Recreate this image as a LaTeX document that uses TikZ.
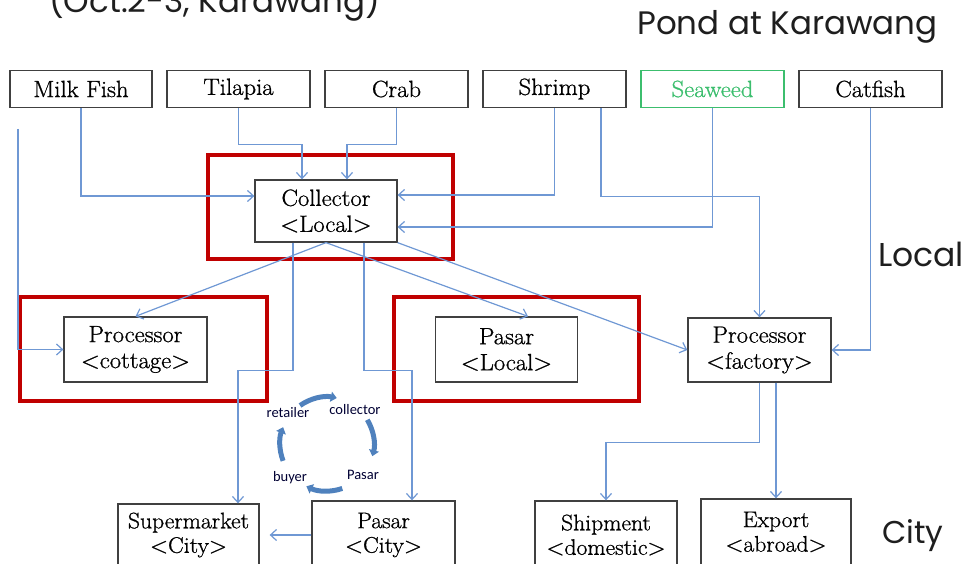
\documentclass[tikz,border=0pt]{standalone}
\usepackage{fontspec}
\newfontfamily\titlefont{Poppins}
\newfontfamily\cyclefont{Carlito}
\newfontfamily\boxfont{Latin Modern Roman}[FakeBold=0.9,FakeStretch=1.05]
\usetikzlibrary{arrows.meta}
\definecolor{connc}{RGB}{111,152,212}
\definecolor{cycblue}{RGB}{79,129,189}
\definecolor{boxgray}{RGB}{64,64,64}
\definecolor{redb}{RGB}{192,0,0}
\definecolor{seagreen}{RGB}{60,190,110}
\definecolor{titlec}{RGB}{30,30,30}
\tikzset{
  box/.style={draw=boxgray, line width=1.3pt, rectangle, inner sep=0pt, align=center,
    font=\boxfont\fontsize{23.5}{26}\selectfont},
  topbox/.style={box, minimum width=143pt, minimum height=37pt},
  midbox/.style={box, minimum width=143pt, minimum height=64pt},
  lowbox/.style={box, minimum width=142pt, font=\boxfont\fontsize{22.5}{24.5}\selectfont},
  redbox/.style={draw=redb, line width=4pt, rectangle, inner sep=0pt, minimum width=245pt, minimum height=104pt},
  flow/.style={draw=connc, line width=1.2pt, -{Straight Barb[length=6pt,width=11pt]}},
  cycarrow/.style={draw=cycblue, line width=5pt, -{Triangle[length=6pt,width=10pt]}},
  cyclabel/.style={font=\cyclefont\fontsize{14.5}{17}\selectfont, text=black!80!blue, inner sep=0pt},
  titletext/.style={font=\titlefont\fontsize{32.5}{36}\selectfont, text=titlec, inner sep=0pt}
}
\begin{document}
\begin{tikzpicture}[x=1pt,y=-1pt]
\useasboundingbox (0,0) rectangle (967,564);
\clip (0,0) rectangle (967,564);
% titles
\node[titletext, anchor=base west] (ttop) at (49,13) {(Oct.2-3, Karawang)};
\node[titletext, anchor=base west] (tpond) at (637,35) {Pond at Karawang};
\node[titletext, anchor=base west, font=\titlefont\fontsize{33}{36}\selectfont] (tlocal) at (878,267) {Local};
\node[titletext, anchor=base west, font=\titlefont\fontsize{31.5}{36}\selectfont] (tcity) at (882,543) {City};
% red boxes
\node[redbox] (rcoll) at (330.5,207) {};
\node[redbox, minimum width=247pt] (rcot) at (143.5,349) {};
\node[redbox] (rpas) at (516.5,349) {};
% top row
\node[topbox, minimum width=142pt] (milk) at (81,89) {Milk Fish};
\node[topbox] (til) at (238.5,89) {Tilapia};
\node[topbox] (crab) at (396.5,89) {Crab};
\node[topbox] (shrimp) at (554.5,89) {Shrimp};
\node[topbox, draw=seagreen, text=seagreen] (sea) at (712.5,89) {Seaweed};
\node[topbox] (cat) at (870.5,89) {Catfish};
% middle
\node[box, minimum width=142pt, minimum height=62pt] (coll) at (326,211) {Collector\\\textless Local\textgreater};
\node[midbox, minimum height=65pt] (cot) at (135.5,349.5) {Processor\\\textless cottage\textgreater};
\node[midbox, minimum width=142pt, minimum height=65pt] (pasl) at (506.5,349.5) {Pasar\\\textless Local\textgreater};
\node[midbox] (fact) at (759.5,350) {Processor\\\textless factory\textgreater};
% bottom
\node[lowbox, minimum width=141pt, minimum height=62pt] (sup) at (188.5,535) {Supermarket\\\textless City\textgreater};
\node[lowbox, minimum width=143pt, minimum height=68pt] (pasc) at (383.5,535) {Pasar\\\textless City\textgreater};
\node[lowbox, minimum height=68pt] (ship) at (606,535) {Shipment\\\textless domestic\textgreater};
\node[lowbox, minimum width=150pt, minimum height=66pt] (exp) at (776,532) {Export\\\textless abroad\textgreater};
% connectors
\coordinate (lstart) at (18,129);
\draw[flow] (milk.south) |- ([yshift=15pt]coll.west);
\draw[flow] (til.south) -- ++(0,36) -| ([xshift=-24pt]coll.north);
\draw[flow] (crab.south) -- ++(0,36) -| ([xshift=21pt]coll.north);
\draw[flow] (shrimp.south) |- ([yshift=16pt]coll.east);
\draw[flow] ([xshift=46.5pt]shrimp.south) -- ++(0,88) -| (fact.north);
\draw[flow] (sea.south) |- ([yshift=-16pt]coll.east);
\draw[flow] (cat.south) |- (fact.east);
\draw[flow] (lstart) |- (cot.west);
\draw[flow] (coll.south) -- (cot.north);
\draw[flow] (coll.south) -- ([xshift=21.5pt]pasl.north);
\draw[flow] (coll.south east) -- (fact.west);
\draw[flow] ([xshift=-33pt]coll.south) -- ++(0,128) -| ([xshift=49.5pt]sup.north);
\draw[flow] ([xshift=38pt]coll.south) -- ++(0,128) -| ([xshift=28.5pt]pasc.north);
\draw[flow, shorten >=10pt] (pasc.west) -- (sup.east);
\draw[flow] (fact.south) -- ++(0,60) -| (ship.north);
\draw[flow] (exp.north |- fact.south) -- (exp.north);
% cycle
\begin{scope}[shift={(327,444)}, y=1pt]
\draw[cycarrow] (125:47) arc[start angle=125, end angle=78, radius=47];
\draw[cycarrow] (31:47) arc[start angle=31, end angle=-15, radius=47];
\draw[cycarrow] (-71:47) arc[start angle=-71, end angle=-116, radius=47];
\draw[cycarrow] (201:47) arc[start angle=201, end angle=159, radius=47];
\end{scope}
\node[cyclabel] (lret) at (288,413) {retailer};
\node[cyclabel] (lcol) at (355,410) {collector};
\node[cyclabel] (lpas) at (363,475) {Pasar};
\node[cyclabel] (lbuy) at (290,478) {buyer};
\end{tikzpicture}
\end{document}
